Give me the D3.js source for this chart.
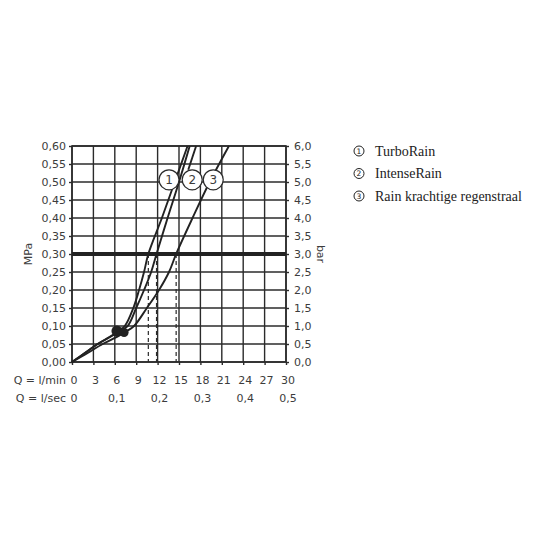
<!DOCTYPE html>
<html><head><meta charset="utf-8">
<script src="https://cdn.jsdelivr.net/npm/d3@7"></script>
<style>
html,body{margin:0;padding:0;background:#fff;}
svg{display:block;}
</style></head>
<body>
<svg id="chart" width="536" height="536"></svg>
<script>
// ---------- data ----------
const flowTicks = [0,3,6,9,12,15,18,21,24,27,30];            // l/min
const secTicks = [0,6,12,18,24,30];                          // l/min positions
const secLabels = ["0","0,1","0,2","0,3","0,4","0,5"];        // l/sec
const mpaTicks = [0,0.05,0.1,0.15,0.2,0.25,0.3,0.35,0.4,0.45,0.5,0.55,0.6];
const barTicks = [0,0.5,1,1.5,2,2.5,3,3.5,4,4.5,5,5.5,6];
const seriesNames = ["TurboRain","IntenseRain","Rain krachtige regenstraal"];
// [flow l/min, pressure MPa]
const curve1 = [[0,0],[1.8,0.025],[3.6,0.05],[5.3,0.07],[6.4,0.085],[7.4,0.1],[8.6,0.15],[9.4,0.2],[10.1,0.25],[10.7,0.3],[12.6,0.4],[14.4,0.5],[16.2,0.6]];
const curve2 = [[0,0],[1.8,0.025],[3.6,0.05],[5.4,0.07],[6.6,0.085],[7.8,0.1],[9.0,0.15],[10.1,0.2],[11.1,0.25],[11.85,0.3],[13.4,0.4],[15.0,0.5],[16.5,0.6]];
const curve3 = [[0,0],[2.2,0.025],[4.3,0.05],[6.3,0.07],[7.6,0.085],[8.7,0.1],[10.5,0.15],[12.2,0.2],[13.6,0.25],[14.6,0.3],[16.9,0.4],[19.3,0.5],[22.0,0.6]];
const curve2Upper = [[16.3,0.534],[17.4,0.6]];
const refPressure = 0.3;                        // MPa
const dashFlows = [10.7,11.85,14.6];            // l/min at 0.3 MPa
const minFlowDots = [[6.3,0.086],[7.3,0.082]];
const labelPos = [[13.6,0.506],[16.85,0.506],[19.8,0.506]];

// ---------- drawing ----------
const svg = d3.select("#chart");
const ink = "#2b2b2b", txt = "#3c3c3c";
const x = d3.scaleLinear().domain([0,30]).range([72,286]);
const y = d3.scaleLinear().domain([0,0.6]).range([362,146]);
const yb = d3.scaleLinear().domain([0,6]).range([362,146]);
const font = "'DejaVu Sans', sans-serif";

// grid
const g = svg.append("g");
g.selectAll(".vg").data(flowTicks).join("line")
  .attr("x1",d=>x(d)).attr("x2",d=>x(d)).attr("y1",y(0)).attr("y2",y(0.6))
  .attr("stroke",ink).attr("stroke-width",1.4);
g.selectAll(".hg").data(mpaTicks).join("line")
  .attr("x1",x(0)).attr("x2",x(30)).attr("y1",d=>y(d)).attr("y2",d=>y(d))
  .attr("stroke",ink).attr("stroke-width",1.4);

// axes
function styleAxis(sel){
  sel.select(".domain").remove();
  sel.selectAll("line").attr("stroke",ink).attr("stroke-width",1.4);
  sel.selectAll("text").attr("fill",txt).style("font-family",font).style("font-size","11px");
}
svg.append("g").attr("transform",`translate(${x(0)},0)`)
  .call(d3.axisLeft(y).tickValues(mpaTicks).tickSize(3).tickPadding(3)
    .tickFormat(d=>d.toFixed(2).replace(".",",")))
  .call(styleAxis);
svg.append("g").attr("transform",`translate(${x(30)},0)`)
  .call(d3.axisRight(yb).tickValues(barTicks).tickSize(3).tickPadding(5)
    .tickFormat(d=>d.toFixed(1).replace(".",",")))
  .call(styleAxis);
const xa = svg.append("g").attr("transform",`translate(0,${y(0)})`)
  .call(d3.axisBottom(x).tickValues(flowTicks).tickSize(3).tickFormat(d=>String(d)))
  .call(styleAxis);
xa.selectAll("text").attr("y",18).attr("dy","0.35em").attr("dx",1.5);
const xs = svg.append("g").attr("transform",`translate(0,${y(0)})`)
  .call(d3.axisBottom(x).tickValues(secTicks).tickSize(0).tickFormat((d,i)=>secLabels[i]))
  .call(styleAxis);
xs.selectAll("line").remove();
xs.selectAll("text").attr("y",36).attr("dy","0.35em").attr("dx",1.5);

svg.append("text").attr("x",66).attr("y",380).attr("dy","0.35em").attr("text-anchor","end")
  .attr("fill",txt).style("font-family",font).style("font-size","11px").text("Q = l/min");
svg.append("text").attr("x",66).attr("y",398).attr("dy","0.35em").attr("text-anchor","end")
  .attr("fill",txt).style("font-family",font).style("font-size","11px").text("Q = l/sec");
svg.append("text").attr("transform",`translate(28,${y(0.3)}) rotate(-90)`).attr("text-anchor","middle")
  .attr("dy","0.35em").attr("fill",txt).style("font-family",font).style("font-size","11px").text("MPa");
svg.append("text").attr("transform",`translate(321,${y(0.3)}) rotate(90)`).attr("text-anchor","middle")
  .attr("dy","0.35em").attr("fill",txt).style("font-family",font).style("font-size","11px").text("bar");

// dashed verticals
svg.selectAll(".dash").data(dashFlows).join("line")
  .attr("x1",d=>x(d)).attr("x2",d=>x(d)).attr("y1",y(refPressure)).attr("y2",y(0))
  .attr("stroke",ink).attr("stroke-width",1.2).attr("stroke-dasharray","4,3");

// frame
svg.append("rect").attr("x",x(0)).attr("y",y(0.6)).attr("width",x(30)-x(0)).attr("height",y(0)-y(0.6))
  .attr("fill","none").attr("stroke",ink).attr("stroke-width",1.6);

// thick reference line
svg.append("line").attr("x1",x(0)).attr("x2",x(30)).attr("y1",y(refPressure)).attr("y2",y(refPressure))
  .attr("stroke","#222").attr("stroke-width",4.2);

// curves
const line = d3.line().x(d=>x(d[0])).y(d=>y(d[1])).curve(d3.curveCatmullRom.alpha(0.5));
svg.selectAll(".curve").data([curve1,curve2,curve3,curve2Upper]).join("path")
  .attr("d",line).attr("fill","none").attr("stroke","#222").attr("stroke-width",1.9);

// min-flow dots
svg.selectAll(".dot").data(minFlowDots).join("circle")
  .attr("cx",d=>x(d[0])).attr("cy",d=>y(d[1])).attr("r",(d,i)=>i===0?5.5:4.5).attr("fill","#222");

// curve labels
const lab = svg.selectAll(".lab").data(labelPos).join("g")
  .attr("transform",d=>`translate(${x(d[0])},${y(d[1])})`);
lab.append("circle").attr("r",10).attr("fill","#fff").attr("stroke",ink).attr("stroke-width",1.2);
lab.append("text").attr("text-anchor","middle").attr("dy","0.36em").attr("fill",txt)
  .style("font-family",font).style("font-size","12px").text((d,i)=>i+1);

// legend
const leg = svg.selectAll(".leg").data(seriesNames).join("g")
  .attr("transform",(d,i)=>`translate(359,${151+i*22.5})`);
leg.append("circle").attr("r",5).attr("fill","none").attr("stroke","#222").attr("stroke-width",1);
leg.append("text").attr("text-anchor","middle").attr("dy","0.36em").attr("fill","#222")
  .style("font-family",font).style("font-size","7.5px").text((d,i)=>i+1);
leg.append("text").attr("x",16).attr("dy","0.35em").attr("fill","#222")
  .style("font-family","'Liberation Serif', serif").style("font-size","14px").text(d=>d);
</script>
</body></html>
